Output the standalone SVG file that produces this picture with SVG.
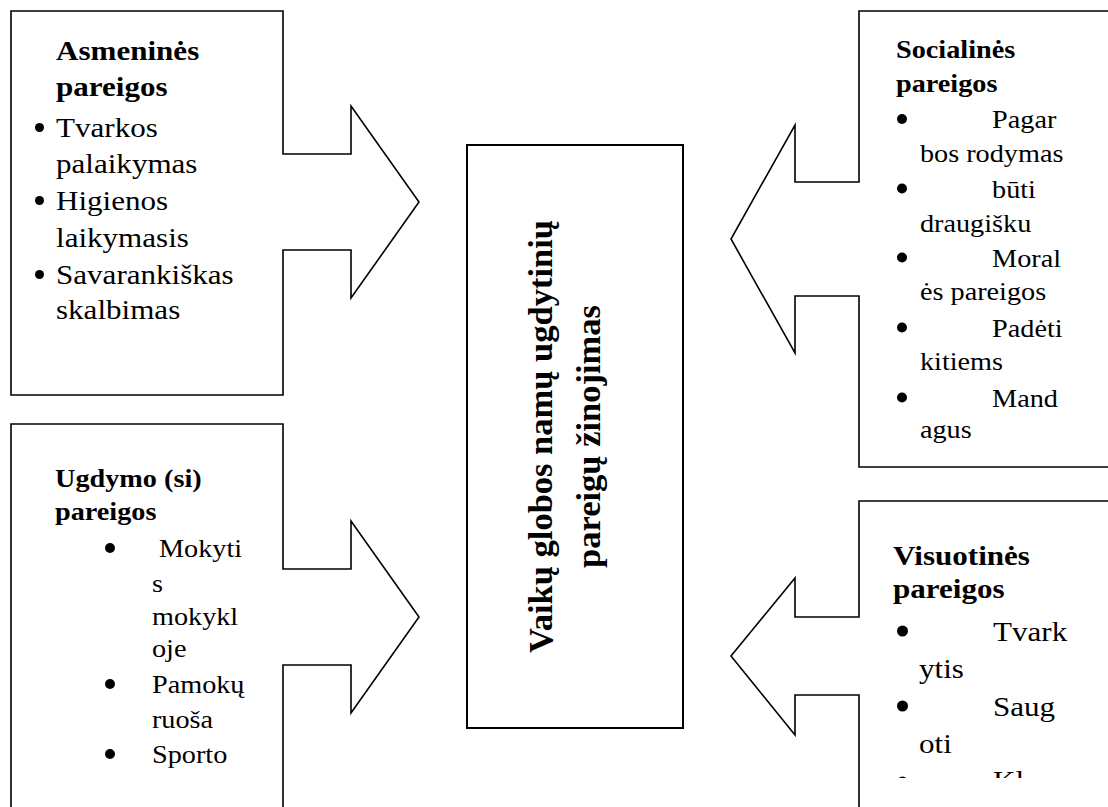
<svg xmlns="http://www.w3.org/2000/svg" width="1108" height="807" viewBox="0 0 1108 807" font-family="'Liberation Serif', 'Times New Roman', Times, serif">
<defs>
<style>
.shape{fill:#fff;stroke:#000;stroke-width:1.6;stroke-linejoin:miter}
.center{fill:#fff;stroke:#000;stroke-width:2}
.b{font-weight:bold}
.big{font-size:27.5px}
.small{font-size:25px}
.dot{fill:#000}
.ctr{font-size:34.5px;font-weight:bold;text-anchor:middle}
</style>
<clipPath id="c2"><rect x="860" y="12" width="260" height="431"/></clipPath>
<clipPath id="c4"><rect x="860" y="502" width="260" height="276"/></clipPath>
</defs>
<rect width="1108" height="807" fill="#fff"/>
<g id="connectors"/>
<g id="node-asmenines">
<path class="shape" d="M11,11 H283 V154 H351 V106 L419,202 L351,298 V250 H283 V395 H11 Z"/>
<circle class="dot" cx="39.5" cy="127.5" r="4.5"/>
<circle class="dot" cx="39.5" cy="200.5" r="4.5"/>
<circle class="dot" cx="39.5" cy="274.5" r="4.5"/>
<g class="big" transform="translate(56,0) scale(1.13,1)">
<text class="b" x="0" y="60">Asmeninės</text>
<text class="b" x="0" y="96">pareigos</text>
<text x="0" y="137">Tvarkos</text>
<text x="0" y="173">palaikymas</text>
<text x="0" y="210">Higienos</text>
<text x="0" y="247">laikymasis</text>
<text x="0" y="284">Savarankiškas</text>
<text x="0" y="319">skalbimas</text>
</g>
</g>
<g id="node-socialines">
<path class="shape" d="M1120,11 H859 V182 H795 V125 L731,239 L795,353 V296 H859 V467 H1120 Z"/>
<g clip-path="url(#c2)">
<circle class="dot" cx="902" cy="119" r="5"/>
<circle class="dot" cx="902" cy="188.5" r="5"/>
<circle class="dot" cx="902" cy="257.5" r="5"/>
<circle class="dot" cx="902" cy="327.5" r="5"/>
<circle class="dot" cx="902" cy="397.5" r="5"/>
<g class="small" transform="translate(896,0) scale(1.13,1)">
<text class="b" x="0" y="58">Socialinės</text>
<text class="b" x="0" y="92">pareigos</text>
<text x="85" y="128">Pagar</text>
<text x="21.2" y="162">bos rodymas</text>
<text x="85" y="198">būti</text>
<text x="21.2" y="232">draugišku</text>
<text x="85" y="267">Moral</text>
<text x="21.2" y="300">ės pareigos</text>
<text x="85" y="337">Padėti</text>
<text x="21.2" y="370">kitiems</text>
<text x="85" y="407">Mand</text>
<text x="21.2" y="438">agus</text>
</g>
</g>
</g>
<g id="node-ugdymo">
<path class="shape" d="M11,820 V424 H283 V569 H351 V521 L419,617 L351,713 V665 H283 V820"/>
<circle class="dot" cx="110" cy="548" r="5"/>
<circle class="dot" cx="110" cy="684" r="5"/>
<circle class="dot" cx="110" cy="754" r="5"/>
<g class="small" transform="translate(55,0) scale(1.13,1)">
<text class="b" x="0" y="487">Ugdymo (si)</text>
<text class="b" x="0" y="520">pareigos</text>
<text x="92" y="557">Mokyti</text>
<text x="85.8" y="592">s</text>
<text x="85.8" y="625">mokykl</text>
<text x="85.8" y="657">oje</text>
<text x="85.8" y="693">Pamokų</text>
<text x="85.8" y="728">ruoša</text>
<text x="85.8" y="763">Sporto</text>
</g>
</g>
<g id="node-visuotines">
<path class="shape" d="M1120,501 H859 V617 H795 V578 L731,656 L795,735 V695 H859 V820 H1120 Z"/>
<g clip-path="url(#c4)">
<circle class="dot" cx="902.5" cy="631" r="5.5"/>
<circle class="dot" cx="902.5" cy="706" r="5.5"/>
<circle class="dot" cx="902.5" cy="782" r="5.5"/>
<g class="big" transform="translate(893,0) scale(1.13,1)">
<text class="b" x="0" y="565">Visuotinės</text>
<text class="b" x="0" y="598">pareigos</text>
<text x="88.5" y="641">Tvark</text>
<text x="23" y="678">ytis</text>
<text x="88.5" y="716">Saug</text>
<text x="23" y="753">oti</text>
<text x="88.5" y="790">Kl</text>
</g>
</g>
</g>
<g id="node-center">
<rect class="center" x="467" y="145" width="216" height="583"/>
<text class="ctr" transform="translate(552,436.5) rotate(-90)">Vaikų globos namų ugdytinių</text>
<text class="ctr" transform="translate(600,436.5) rotate(-90)">pareigų žinojimas</text>
</g>
</svg>
